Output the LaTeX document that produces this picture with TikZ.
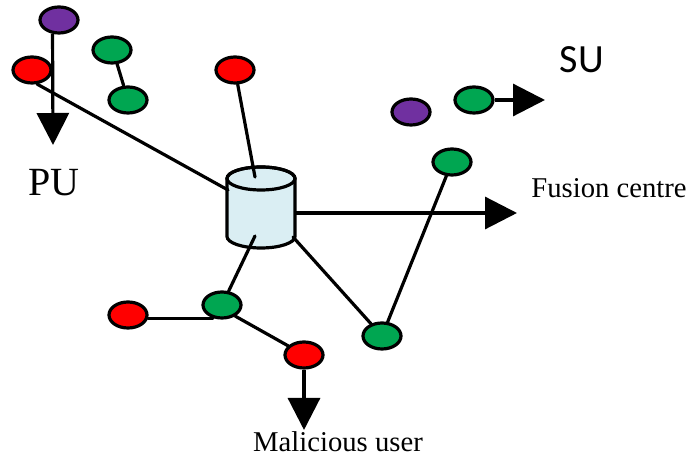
\documentclass[tikz,border=0pt]{standalone}
\usepackage{fontspec}
\setmainfont{Liberation Serif}
\newfontfamily\sufont{Carlito}
\usetikzlibrary{arrows.meta,shapes.geometric}
\definecolor{nred}{HTML}{FF0000}
\definecolor{ngreen}{HTML}{00A651}
\definecolor{npurple}{HTML}{7030A0}
\definecolor{cylfill}{HTML}{DAEEF3}
\begin{document}
\begin{tikzpicture}[x=0.75pt,y=0.75pt,
  dev/.style={ellipse, draw=black, line width=2.4pt, minimum width=28.5pt, minimum height=19.5pt, inner sep=0pt},
  redn/.style={dev, fill=nred},
  greenn/.style={dev, fill=ngreen},
  purplen/.style={dev, fill=npurple},
  conn/.style={line width=2.4pt, line cap=round},
  arr/.style={line width=2.4pt, -{Triangle[length=24pt,width=24pt]}},
  bigl/.style={font=\fontsize{30}{34}\selectfont},
  smalll/.style={font=\fontsize{21.5}{24}\selectfont}]
\useasboundingbox (0,0) rectangle (690,457);
% cylinder (fusion centre)
\filldraw[fill=cylfill, draw=black, line width=2.4pt]
  (227,278.5) -- (227,220.5) arc[start angle=180, end angle=360, x radius=25.5pt, y radius=8.625pt]
  -- (295,278.5) arc[start angle=0, end angle=180, x radius=25.5pt, y radius=8.625pt] -- cycle;
\draw[line width=2.4pt] (261,278.5) ellipse [x radius=25.5pt, y radius=8.625pt];
\coordinate (cylT) at (255,280);
\coordinate (cylB) at (255,221);
\coordinate (cylL) at (228,267);
\coordinate (cylR) at (295,244);
\coordinate (cylBR) at (293,220);
% devices
\node[purplen] (purple1) at (59,437) {};
\node[redn] (redPU) at (32,387) {};
\node[greenn] (green1) at (112,407) {};
\node[greenn] (green2) at (128,357) {};
\node[redn] (redTop) at (235,387) {};
\node[purplen] (purple2) at (411,345) {};
\node[greenn] (greenSU) at (474,357) {};
\node[greenn] (greenMid) at (452,295) {};
\node[greenn] (greenBR) at (382,121) {};
\node[greenn] (greenBM) at (222,152) {};
\node[redn] (redBL) at (128,142) {};
\node[redn] (redB) at (304,102) {};
% labels
\node[bigl] (puL) at (54,274) {PU};
\node[bigl, font=\sufont\fontsize{30}{34}\selectfont] (suL) at (582,397) {SU};
\node[smalll] (fusL) at (609,269) {Fusion centre};
\node[smalll] (malL) at (338,15) {Malicious user};
% arrow end points
\coordinate (puTip) at (53,312);
\coordinate (suTip) at (545,357);
\coordinate (fusTip) at (517,244);
\coordinate (malTip) at (304,27);
% connectors
\draw[conn] (redPU.-70) -- (cylL);
\draw[conn] (green1.-70) -- (green2);
\draw[conn] (redTop) -- (cylT);
\draw[conn] (cylB) -- (greenBM);
\draw[conn] (cylBR) -- (greenBR);
\draw[conn] (greenMid) -- (greenBR);
\draw[conn] (redBL.-10) -- (redBL.-10 -| greenBM.-125);
\draw[conn] (greenBM.-40) -- (redB.150);
% arrows
\draw[arr] (purple1.-115) -- (puTip);
\draw[arr] (greenSU) -- (suTip);
\draw[arr] (cylR) -- (fusTip);
\draw[arr] (redB) -- (malTip);
\end{tikzpicture}
\end{document}
